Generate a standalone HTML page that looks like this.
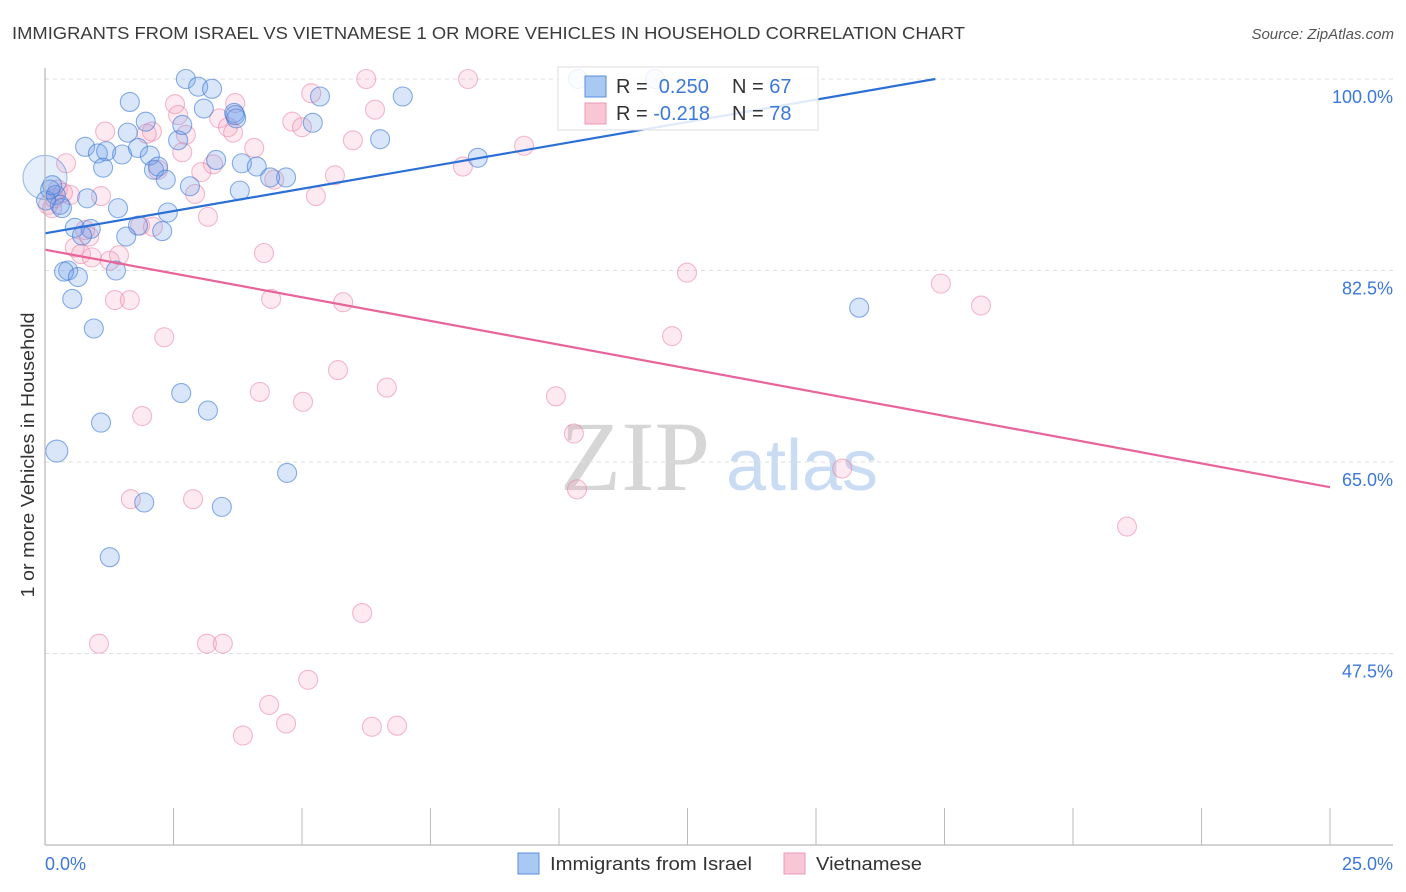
<!DOCTYPE html>
<html><head><meta charset="utf-8"><style>
body{margin:0;background:#fff;font-family:"Liberation Sans",sans-serif;}
#wrap{position:relative;width:1406px;height:892px;overflow:hidden;}
</style></head><body>
<div id="wrap">
<svg id="chart" width="1406" height="892">
<text x="12" y="39" font-size="17.5" fill="#3a3a3a" textLength="953" lengthAdjust="spacingAndGlyphs">IMMIGRANTS FROM ISRAEL VS VIETNAMESE 1 OR MORE VEHICLES IN HOUSEHOLD CORRELATION CHART</text>
<text x="1394" y="39" font-size="15" fill="#555" font-style="italic" text-anchor="end">Source: ZipAtlas.com</text>
<text x="635" y="490" font-size="100" fill="#d6d6d6" font-family="Liberation Serif,serif" text-anchor="middle">ZIP</text>
<text x="802" y="490" font-size="72" fill="#c9dcf3" text-anchor="middle">atlas</text>
<text transform="translate(34,455) rotate(-90)" font-size="18" fill="#333" text-anchor="middle" textLength="285" lengthAdjust="spacingAndGlyphs">1 or more Vehicles in Household</text>
<g id="grid"></g><g id="pts"></g><g id="lines"></g>
<line x1="45" y1="68" x2="45" y2="845" stroke="#bbb" stroke-width="1.3"/>
<line x1="45" y1="845" x2="1393" y2="845" stroke="#bbb" stroke-width="1.3"/>
<text x="45" y="870" font-size="18" fill="#3b78d8">0.0%</text>
<text x="1393" y="870" font-size="18" fill="#3b78d8" text-anchor="end">25.0%</text>
<g>
<rect x="558" y="67" width="260" height="63" fill="#fff" fill-opacity="0.85" stroke="#ddd"/>
<rect x="585" y="76" width="21" height="21" fill="#a9c8f2" stroke="#5a8fdc"/>
<rect x="585" y="103" width="21" height="21" fill="#f8c6d5" stroke="#eb9ab4"/>
<text x="616" y="93" font-size="20" fill="#333">R = <tspan fill="#3b78d8">&#160;0.250</tspan><tspan x="732">N = </tspan><tspan fill="#3b78d8">67</tspan></text>
<text x="616" y="120" font-size="20" fill="#333">R = <tspan fill="#3b78d8">-0.218</tspan><tspan x="732">N = </tspan><tspan fill="#3b78d8">78</tspan></text>
</g>
<g><rect x="518" y="853" width="21" height="21" fill="#a9c8f2" stroke="#5a8fdc"/><text x="550" y="870" font-size="18" fill="#333" textLength="202" lengthAdjust="spacingAndGlyphs">Immigrants from Israel</text></g>
<g><rect x="784" y="853" width="21" height="21" fill="#f8c6d5" stroke="#eb9ab4"/><text x="816" y="870" font-size="18" fill="#333" textLength="106" lengthAdjust="spacingAndGlyphs">Vietnamese</text></g>
</svg>
</div>
<script>
const yTicks=[100,82.5,65,47.5];
const xTickVals=[0,2.5,5,7.5,10,12.5,15,17.5,20,22.5,25];
const israelX=[2.74,2.98,3.25,1.65,3.09,3.68,3.72,1.96,5.21,5.35,6.96,6.52,8.42,0.78,1.03,1.19,1.50,1.81,2.04,1.61,1.13,2.12,2.20,2.35,2.59,2.67,3.33,3.83,4.12,4.69,3.79,2.82,0.82,1.42,2.39,0.58,0.89,0.72,1.58,1.81,2.28,0.45,0.37,0.64,1.38,0.53,0.95,2.65,3.17,1.09,0.23,4.71,1.93,3.44,1.26,15.84,10.37,11.87,0.0,0.10,0.21,0.29,0.02,0.33,0.14,4.38,3.70];
const israelY=[100,99.3,99.1,97.9,97.3,96.9,96.4,96.1,96.0,98.4,98.4,94.5,92.8,93.8,93.2,93.4,93.1,93.7,93.0,95.1,91.9,91.7,92.0,90.8,94.4,95.8,92.6,92.3,92.0,91.0,89.8,90.2,89.1,88.2,87.8,86.4,86.3,85.7,85.6,86.6,86.1,82.5,82.4,81.9,82.5,79.9,77.2,71.3,69.7,68.6,66.0,64.0,61.3,60.9,56.3,79.1,100,100,91.0,89.9,89.4,88.5,88.9,88.2,90.3,91.0,96.7];
const vietX=[6.25,8.23,5.18,2.53,3.70,6.42,2.59,3.39,4.81,5.00,3.56,2.08,1.17,1.98,2.74,3.66,5.99,9.32,0.41,2.67,3.27,3.04,2.20,4.07,4.46,5.64,8.13,5.27,2.92,1.09,0.49,0.06,0.18,3.17,1.85,2.10,0.86,0.58,0.70,0.91,1.26,1.44,4.26,12.49,17.43,18.21,1.36,1.65,4.40,5.80,2.32,12.20,5.70,6.65,4.18,5.02,9.94,1.89,10.29,15.51,10.35,1.67,2.88,21.05,6.17,1.05,3.15,3.46,5.12,4.36,4.69,3.85,6.36,6.85,0.25,0.35,0.14,0.78];
const vietY=[100,100,98.7,97.7,97.8,97.2,96.7,96.4,96.1,95.6,95.6,95.2,95.2,95.0,94.9,95.1,94.4,93.9,92.3,93.3,92.2,91.5,91.7,93.7,90.8,91.2,92.0,89.3,89.5,89.3,89.4,88.5,89.1,87.4,86.6,86.5,85.6,84.6,84.0,83.7,83.4,83.9,84.1,82.3,81.3,79.3,79.8,79.8,79.9,79.6,76.4,76.5,73.4,71.8,71.4,70.5,71.0,69.2,67.6,64.4,62.5,61.6,61.6,59.1,51.2,48.4,48.4,48.4,45.1,42.8,41.1,40.0,40.8,40.9,89.9,89.6,88.2,86.2];
const israelFit=[85.9,0.814];
const vietFit=[84.4,-0.868];
const NS='http://www.w3.org/2000/svg';
function sx(v){return 45+v*51.4;}
function sy(v){return 79+(100-v)*10.943;}
function mk(tag,attrs,parent){const e=document.createElementNS(NS,tag);for(const k in attrs)e.setAttribute(k,attrs[k]);parent.appendChild(e);return e;}
const grid=document.getElementById('grid');
yTicks.forEach(t=>{
  const l=mk('line',{x1:45,x2:1393,y1:sy(t),y2:sy(t),stroke:'#ddd','stroke-dasharray':'4,4'},grid);
  
  
  const tx=mk('text',{x:1393,y:sy(t)+24,'font-size':18,fill:'#3b78d8','text-anchor':'end'},grid);
  tx.textContent=t.toFixed(1)+'%';
  
  
});
xTickVals.forEach(t=>{
  const l=mk('line',{x1:sx(t),x2:sx(t),y1:808,y2:845,stroke:'#bbb'},grid);
  
  
});
const pts=document.getElementById('pts');
function drawPts(xs,ys,fill,stroke,name){
  xs.forEach((x,i)=>{
    const big=(x===0&&name==='israel-point');
    const r=big?22:(ys[i]===66.0?11:9.5);
    const c=mk('circle',{cx:sx(x),cy:sy(ys[i]),r:r,fill:big?'rgba(110,160,235,0.18)':fill,stroke:big?'rgba(60,120,215,0.45)':stroke,'stroke-width':1.1},pts);
    
    
  });
}
drawPts(vietX,vietY,'rgba(244,160,188,0.22)','rgba(232,120,156,0.5)','vietnamese-point');
drawPts(israelX,israelY,'rgba(110,160,235,0.26)','rgba(60,120,215,0.6)','israel-point');
const lines=document.getElementById('lines');
const bxEnd=(100-israelFit[0])/israelFit[1];
const bl=mk('line',{x1:sx(0),y1:sy(israelFit[0]),x2:sx(bxEnd),y2:sy(100),stroke:'#2b6fd6','stroke-width':2.2},lines);


const pl=mk('line',{x1:sx(0),y1:sy(vietFit[0]),x2:sx(25),y2:sy(vietFit[0]+vietFit[1]*25),stroke:'#e8649a','stroke-width':2.2},lines);


</script>
</body></html>
